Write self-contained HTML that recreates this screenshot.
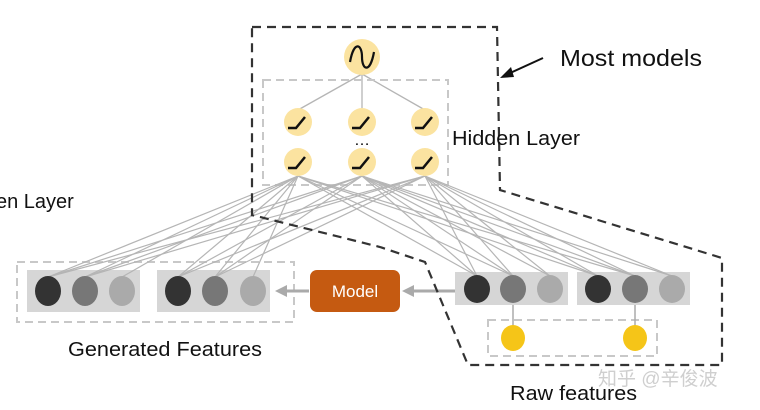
<!DOCTYPE html>
<html><head><meta charset="utf-8"><style>body{margin:0;background:#fff}svg{display:block}</style></head><body>
<svg width="760" height="410" viewBox="0 0 760 410" xmlns="http://www.w3.org/2000/svg" font-family="Liberation Sans, sans-serif">
<g stroke="#b5b5b5" stroke-width="1.3">
<line x1="362" y1="74" x2="298" y2="110"/><line x1="362" y1="74" x2="362" y2="108"/><line x1="362" y1="74" x2="425" y2="110"/>
</g>
<rect x="263" y="80" width="185" height="105" fill="none" stroke="#c8c8c8" stroke-width="2" stroke-dasharray="8,5"/>
<rect x="17" y="262" width="277" height="60" fill="none" stroke="#c8c8c8" stroke-width="2" stroke-dasharray="8,5"/>
<rect x="488" y="320" width="169" height="36" fill="none" stroke="#c8c8c8" stroke-width="2" stroke-dasharray="8,5"/>
<rect x="27" y="270" width="113" height="42" fill="#d6d6d6"/>
<rect x="157" y="270" width="113" height="42" fill="#d6d6d6"/>
<rect x="455" y="272" width="113" height="33" fill="#d6d6d6"/>
<rect x="577" y="272" width="113" height="33" fill="#d6d6d6"/>
<g stroke="#b5b5b5" stroke-width="1.2">
<line x1="298" y1="176" x2="48" y2="277"/><line x1="298" y1="176" x2="85" y2="277"/><line x1="298" y1="176" x2="178" y2="277"/><line x1="298" y1="176" x2="215" y2="277"/><line x1="298" y1="176" x2="477" y2="276"/><line x1="298" y1="176" x2="513" y2="276"/><line x1="298" y1="176" x2="598" y2="276"/><line x1="298" y1="176" x2="635" y2="276"/><line x1="298" y1="176" x2="122" y2="277"/><line x1="298" y1="176" x2="253" y2="277"/>
<line x1="362" y1="176" x2="48" y2="277"/><line x1="362" y1="176" x2="85" y2="277"/><line x1="362" y1="176" x2="178" y2="277"/><line x1="362" y1="176" x2="215" y2="277"/><line x1="362" y1="176" x2="477" y2="276"/><line x1="362" y1="176" x2="513" y2="276"/><line x1="362" y1="176" x2="598" y2="276"/><line x1="362" y1="176" x2="635" y2="276"/><line x1="362" y1="176" x2="550" y2="276"/><line x1="362" y1="176" x2="672" y2="276"/>
<line x1="425" y1="176" x2="48" y2="277"/><line x1="425" y1="176" x2="85" y2="277"/><line x1="425" y1="176" x2="178" y2="277"/><line x1="425" y1="176" x2="215" y2="277"/><line x1="425" y1="176" x2="477" y2="276"/><line x1="425" y1="176" x2="513" y2="276"/><line x1="425" y1="176" x2="598" y2="276"/><line x1="425" y1="176" x2="635" y2="276"/><line x1="425" y1="176" x2="550" y2="276"/><line x1="425" y1="176" x2="672" y2="276"/>
</g>
<g stroke="#aaa" stroke-width="1.5"><line x1="513" y1="305" x2="513" y2="330"/><line x1="635" y1="305" x2="635" y2="330"/></g>
<g>
<ellipse cx="48" cy="291" rx="13" ry="15" fill="#333"/><ellipse cx="85" cy="291" rx="13" ry="15" fill="#777"/><ellipse cx="122" cy="291" rx="13" ry="15" fill="#aaa"/>
<ellipse cx="178" cy="291" rx="13" ry="15" fill="#333"/><ellipse cx="215" cy="291" rx="13" ry="15" fill="#777"/><ellipse cx="253" cy="291" rx="13" ry="15" fill="#aaa"/>
<ellipse cx="477" cy="289" rx="13" ry="14" fill="#333"/><ellipse cx="513" cy="289" rx="13" ry="14" fill="#777"/><ellipse cx="550" cy="289" rx="13" ry="14" fill="#aaa"/>
<ellipse cx="598" cy="289" rx="13" ry="14" fill="#333"/><ellipse cx="635" cy="289" rx="13" ry="14" fill="#777"/><ellipse cx="672" cy="289" rx="13" ry="14" fill="#aaa"/>
<ellipse cx="513" cy="338" rx="12" ry="13" fill="#f5c518"/><ellipse cx="635" cy="338" rx="12" ry="13" fill="#f5c518"/>
</g>
<rect x="310" y="270" width="90" height="42" rx="7" fill="#c55a11"/>
<text x="355" y="297" fill="#fff" font-size="17" text-anchor="middle">Model</text>
<g stroke="#aaa" stroke-width="3" fill="#aaa">
<line x1="455" y1="291" x2="412" y2="291"/><polygon points="402,291 414,285 414,297" stroke="none"/>
<line x1="309" y1="291" x2="285" y2="291"/><polygon points="275,291 287,285 287,297" stroke="none"/>
</g>
<g fill="#fbe3a0">
<circle cx="362" cy="57" r="18"/>
<circle cx="298" cy="122" r="14"/><circle cx="362" cy="122" r="14"/><circle cx="425" cy="122" r="14"/>
<circle cx="298" cy="162" r="14"/><circle cx="362" cy="162" r="14"/><circle cx="425" cy="162" r="14"/>
</g>
<path d="M350,62 C354,40 362,44 362,57 C362,70 370,74 374,52" fill="none" stroke="#111" stroke-width="2.2"/>
<g fill="none" stroke="#111" stroke-width="2.5">
<path d="M288,128 h8 l9,-11"/><path d="M352,128 h8 l9,-11"/><path d="M415,128 h8 l9,-11"/>
<path d="M288,168 h8 l9,-11"/><path d="M352,168 h8 l9,-11"/><path d="M415,168 h8 l9,-11"/>
</g>
<text x="362" y="145" font-size="16" text-anchor="middle">…</text>
<polygon points="252,27 497,27 500,190 722,258 722,365 468,365 425,262 380,247 252,215" fill="none" stroke="#333" stroke-width="2.2" stroke-dasharray="9,6"/>
<line x1="543" y1="58" x2="508" y2="74" stroke="#111" stroke-width="2"/>
<polygon points="500,78 511,67 514,77" fill="#111"/>
<text x="560" y="66" font-size="23" fill="#111" textLength="142" lengthAdjust="spacingAndGlyphs">Most models</text>
<text x="452" y="145" font-size="20" fill="#111" textLength="128" lengthAdjust="spacingAndGlyphs">Hidden Layer</text>
<text x="-4" y="208" font-size="20" fill="#111">en Layer</text>
<text x="68" y="356" font-size="20" fill="#111" textLength="194" lengthAdjust="spacingAndGlyphs">Generated Features</text>
<text x="510" y="400" font-size="20" fill="#111" textLength="127" lengthAdjust="spacingAndGlyphs">Raw features</text>
<text x="598" y="385" font-size="19" fill="#cfcfcf" font-family="Liberation Sans, Noto Sans CJK SC, sans-serif">知乎 @辛俊波</text>
</svg>
</body></html>
